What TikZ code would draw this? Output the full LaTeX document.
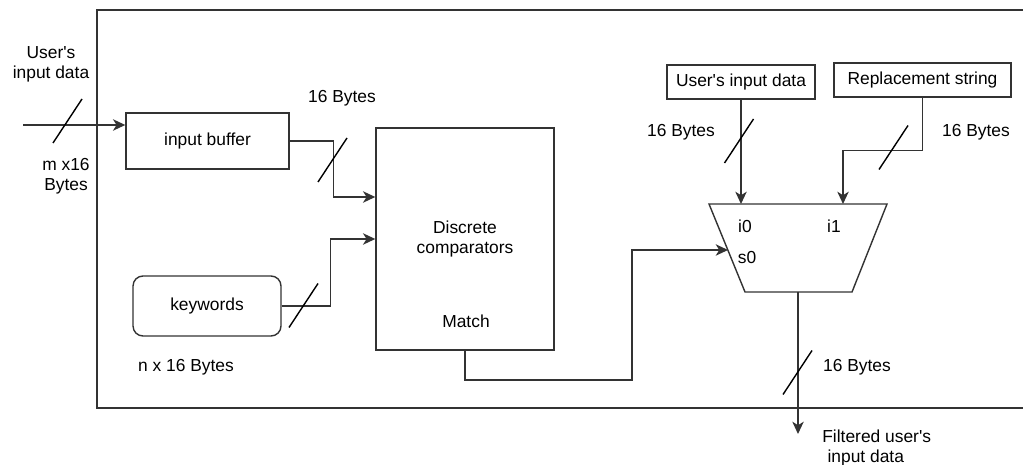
\documentclass[tikz,border=0pt]{standalone}
\usepackage{fontspec}
\setmainfont{Liberation Sans}
\usetikzlibrary{arrows.meta,calc}

\newcommand{\apos}{\textquotesingle}

\tikzset{
  blk/.style={draw=black!80, line width=0.8pt, align=center, inner sep=0pt},
  wire/.style={draw=black!80, line width=0.8pt},
  lbl/.style={align=center, inner sep=0pt},
  >={Stealth[length=7pt,width=6.5pt,inset=2pt]}
}

\begin{document}
\begin{tikzpicture}[x=0.02cm, y=-0.02cm, font=\fontsize{9.9}{11.4}\selectfont]
	\useasboundingbox (0,0) rectangle (1023,465);
	% enclosing frame (runs off to the right)
	\draw[wire] (1030,10) -- (97,10) -- (97,408) -- (1030,408);
	% blocks
	\node[blk, minimum width=3.26cm, minimum height=1.12cm] (buf) at (207.5,141) {input buffer};
	\node[blk, minimum width=3.56cm, minimum height=4.44cm] (comp) at (465,239) {Discrete\\comparators};
	\node[lbl] (match) at (466,321) {Match};
	\node[blk, rounded corners=0.2cm, minimum width=2.96cm, minimum height=1.2cm] (kw) at (207,306) {keywords};
	\node[blk, minimum width=2.96cm, minimum height=0.68cm] (uid) at (741,82) {User\apos s input data};
	\node[blk, minimum width=3.54cm, minimum height=0.68cm] (rep) at (922.5,80) {Replacement string};
	% mux
	\draw[wire] (709,204) -- (887,204) -- (852,292) -- (745,292) -- cycle;
	\coordinate (muxtop) at (798,204);
	\coordinate (i1) at (843,204);
	\coordinate (s0) at (728,250);
	\coordinate (muxout) at (798,292);
	\node[lbl] (li0) at (745,226) {i0};
	\node[lbl] (li1) at (834,226) {i1};
	\node[lbl] (ls0) at (747,258) {s0};
	% connectors
	\coordinate (usrin) at (23,125);
	\coordinate (cmpin) at (comp.west |- 0,197);
	\coordinate (bend) at (632,380);
	\coordinate (out) at (798,434);
	\draw[wire, ->] (usrin) -- (usrin -| buf.west);
	\draw[wire, ->] (buf.east) -- ++(44,0) |- (cmpin);
	\draw[wire, ->] (kw.east) -- ++(49,0) |- (comp.west);
	\draw[wire, ->] (comp.south) |- (bend) |- (s0);
	\draw[wire, ->] (uid.south) -- (uid.south |- muxtop);
	\draw[wire, ->] (rep.south) -- ++(0,53) -| (i1);
	\draw[wire, ->] (muxout) -- (out);
	% bus width marks
	\foreach \x/\y in {67.5/121, 332.5/160, 303.5/305.5, 739/141, 893.5/147.5, 797.5/372.5}
		\draw[line width=0.8pt] (\x,\y) ++(-14.5,22) -- ++(29,-44);
	% labels
	\node[lbl] (tin) at (51,64) {User\apos s\\input data};
	\node[lbl] (tm) at (66,176) {m x16\\Bytes};
	\node[lbl] (tb1) at (342,98) {16 Bytes};
	\node[lbl] (tn) at (186,367) {n x 16 Bytes};
	\node[lbl] (tb2) at (681,132) {16 Bytes};
	\node[lbl] (tb3) at (976,132) {16 Bytes};
	\node[lbl] (tb4) at (857,367) {16 Bytes};
	\node[lbl, anchor=west, align=left] (tout) at (822,448) {Filtered user\apos s\\\hspace{0.3em}input data};
\end{tikzpicture}
\end{document}
